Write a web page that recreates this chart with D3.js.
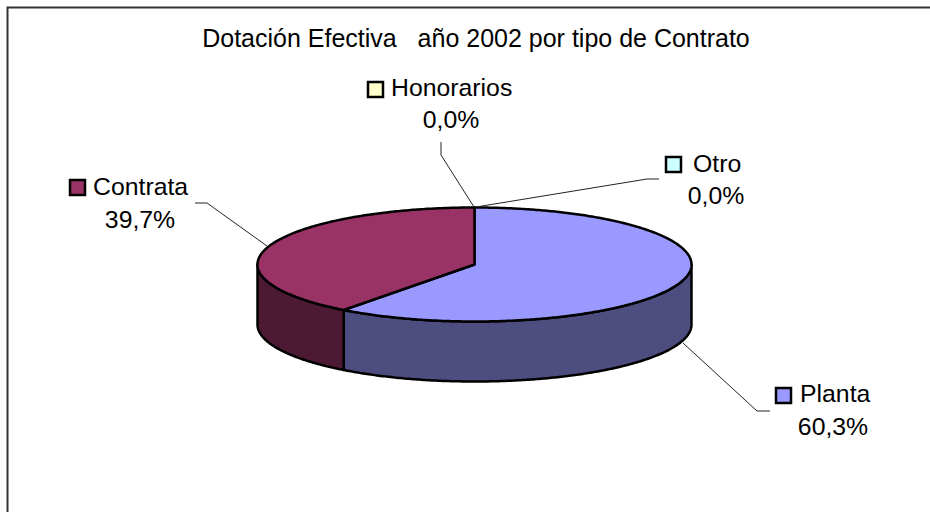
<!DOCTYPE html>
<html>
<head>
<meta charset="utf-8">
<script src="https://d3js.org/d3.v7.min.js"></script>
<style>
  html, body { margin: 0; padding: 0; background: #fff; }
  text { font-family: "Liberation Sans", Arial, sans-serif; font-size: 24.8px; fill: #000; white-space: pre; }
  text.title { font-size: 25px; }
</style>
</head>
<body>
<div id="chart"></div>
<script>
const title = "Dotación Efectiva   año 2002 por tipo de Contrato";
const categories = ["Planta", "Contrata", "Honorarios", "Otro"];
const values = [60.3, 39.7, 0.0, 0.0];
const topColors = ["#9999ff", "#993366", "#ffffcc", "#ccffff"];
const sideColors = ["#4d4d80", "#4d1a33", "#80806a", "#6a8080"];

const width = 930, height = 512;
const cx = 474.5, cy = 264.5, rx = 217, ry = 57, depth = 60;

const svg = d3.select("#chart").append("svg")
    .attr("width", width)
    .attr("height", height)
    .style("display", "block");

// chart frame, only left and top edges fall inside the picture
svg.append("path")
    .attr("d", "M7.5,514V7.5H932")
    .attr("fill", "none")
    .attr("stroke", "#333")
    .attr("stroke-width", 2);

svg.append("text")
    .attr("class", "title")
    .attr("x", 476)
    .attr("y", 47)
    .attr("text-anchor", "middle")
    .text(title);

const slices = d3.pie().sort(null).value(d => d)(values);

// 3d projection: angle 0 is up, going clockwise
const px = a => cx + rx * Math.sin(a);
const py = (a, dz = 0) => cy - ry * Math.cos(a) + dz;

const arcAngles = (a0, a1) => {
    const n = Math.max(2, Math.ceil((a1 - a0) / 0.01));
    return d3.range(n + 1).map(i => a0 + (a1 - a0) * i / n);
};

const line = d3.line();

// side walls, only the front half (90 to 270 degrees) can be seen
slices.forEach(s => {
    const a0 = Math.max(s.startAngle, Math.PI / 2);
    const a1 = Math.min(s.endAngle, Math.PI * 3 / 2);
    if (a1 <= a0) return;
    const upper = arcAngles(a0, a1).map(a => [px(a), py(a)]);
    const lower = arcAngles(a0, a1).reverse().map(a => [px(a), py(a, depth)]);
    svg.append("path")
        .attr("d", line(upper.concat(lower)) + "Z")
        .attr("fill", sideColors[s.index])
        .attr("stroke", "#000")
        .attr("stroke-width", 2.5)
        .attr("stroke-linejoin", "round");
});

// top faces
slices.filter(s => s.value > 0).forEach(s => {
    const pts = arcAngles(s.startAngle, s.endAngle).map(a => [px(a), py(a)]);
    svg.append("path")
        .attr("d", line([[cx, cy]].concat(pts)) + "Z")
        .attr("fill", topColors[s.index])
        .attr("stroke", "#000")
        .attr("stroke-width", 2.5)
        .attr("stroke-linejoin", "round");
});

// labels: key square + name on the first row, percent on the second
const labelPos = [
    { key: 776, keyY: 388, name: 800, pct: 833, y1: 402, y2: 435, leader: [[683, 343], [757, 411], [770, 411]] },
    { key: 70, keyY: 180, name: 93, pct: 140, y1: 195, y2: 228, leader: [[267, 246], [207, 203], [195, 203]] },
    { key: 368, keyY: 82, name: 391, pct: 451, y1: 96, y2: 128, leader: [[474, 207], [441, 155], [441, 142]] },
    { key: 666, keyY: 157, name: 693, pct: 716, y1: 172, y2: 204, leader: [[476, 207], [647, 179], [659, 179]] }
];

const fmt = v => d3.format(".1f")(v).replace(".", ",") + "%";

labelPos.forEach((p, i) => {
    svg.append("path")
        .attr("d", line(p.leader))
        .attr("fill", "none")
        .attr("stroke", "#222")
        .attr("stroke-width", 1);
    svg.append("rect")
        .attr("x", p.key)
        .attr("y", p.keyY)
        .attr("width", 15)
        .attr("height", 15)
        .attr("fill", topColors[i])
        .attr("stroke", "#000")
        .attr("stroke-width", 2.5);
    svg.append("text").attr("x", p.name).attr("y", p.y1).text(categories[i]);
    svg.append("text").attr("x", p.pct).attr("y", p.y2).attr("text-anchor", "middle").text(fmt(values[i]));
});
</script>
</body>
</html>
